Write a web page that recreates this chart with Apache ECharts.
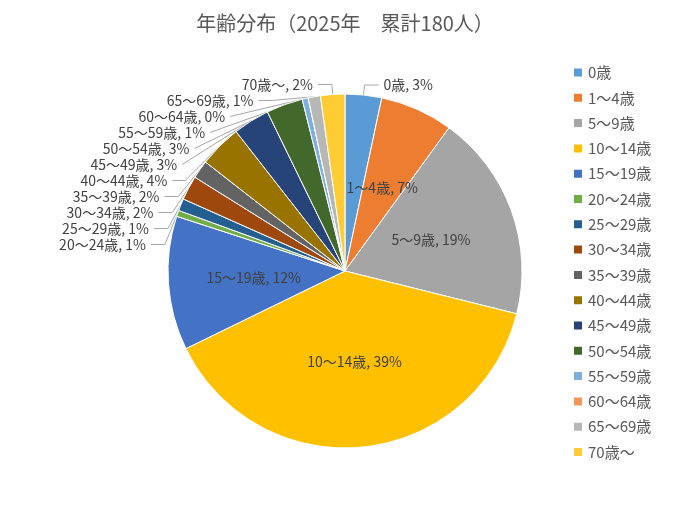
<!DOCTYPE html>
<html>
<head>
<meta charset="UTF-8">
<script src="https://cdn.jsdelivr.net/npm/echarts@6/dist/echarts.min.js"></script>
</head>
<body style="margin:0">
<div id="main" style="width:690px;height:512px;"></div>
<script>
var categories = ['0歳','1～4歳','5～9歳','10～14歳','15～19歳','20～24歳','25～29歳','30～34歳','35～39歳','40～44歳','45～49歳','50～54歳','55～59歳','60～64歳','65～69歳','70歳～'];
var counts = [6,12,34,70,22,1,2,4,3,7,6,6,1,0,2,4];
var colors = ['#5B9BD5','#ED7D31','#A5A5A5','#FFC000','#4472C4','#70AD47','#255E91','#9E480E','#636363','#997300','#264478','#43682B','#7CAFDD','#F1975A','#B7B7B7','#FFCD33'];
var insideSet = {'1～4歳':1,'5～9歳':1,'10～14歳':1,'15～19歳':1};

var myChart = echarts.init(document.getElementById('main'));
var data = categories.map(function (c, i) {
    var inside = insideSet[c];
    return {
        name: c, value: counts[i],
        itemStyle: {color: colors[i]},
        label: inside ? {position: 'inside'} : {position: 'outside'},
        labelLine: {show: !inside}
    };
});
myChart.setOption({
    textStyle: {fontFamily: 'Noto Sans CJK JP'},
    title: {
        text: '年齢分布（2025年　累計180人）', left: 'center', top: 8,
        textStyle: {fontSize: 20, fontWeight: 'normal', color: '#595959'}
    },
    legend: {
        orient: 'vertical', left: 567, top: 60, itemWidth: 10, itemHeight: 10,
        itemGap: 10.3, icon: 'rect', data: categories,
        textStyle: {fontSize: 15, color: '#595959'}
    },
    series: [{
        type: 'pie', center: [345, 271], radius: 177, startAngle: 90,
        percentPrecision: 0, avoidLabelOverlap: true,
        itemStyle: {borderColor: '#fff', borderWidth: 1},
        label: {formatter: '{b}, {d}%', fontSize: 14, color: '#404040'},
        labelLine: {length: 10, length2: 14, lineStyle: {color: '#A6A6A6'}},
        data: data
    }]
});
</script>
</body>
</html>
